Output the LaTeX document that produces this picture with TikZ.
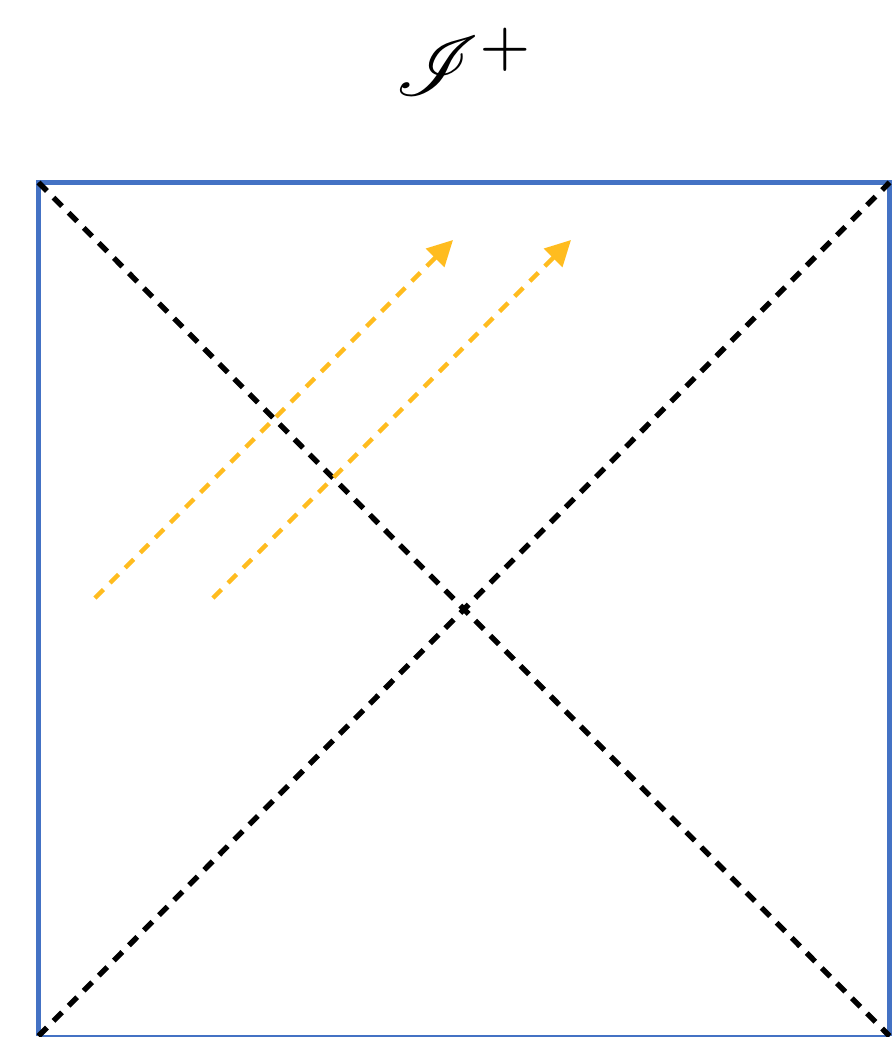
\documentclass[tikz,border=0pt]{standalone}
\usepackage{amsmath,amssymb}
\usepackage{mathrsfs}
\usetikzlibrary{arrows.meta}
\definecolor{edge}{HTML}{4472C4}
\definecolor{ray}{HTML}{FFBC1F}
\tikzset{
  wall/.style={draw=edge,line width=3.8pt},
  wallthin/.style={draw=edge,line width=1.3pt},
  horizon/.style={draw=black,line width=4pt,dash pattern=on 9pt off 7pt},
  lightray/.style={draw=ray,line width=3.2pt,dash pattern=on 9pt off 7pt,-{Triangle[length=19pt,width=19pt]}},
  scri/.style={inner sep=0pt},
}

\begin{document}
\begin{tikzpicture}[x=0.75pt,y=-0.75pt]
  \useasboundingbox (0,0) rectangle (892,1037);
  % corners of the diagram
  \coordinate (tl) at (38.5,182.5);
  \coordinate (tr) at (889.5,182.5);
  \coordinate (bl) at (38.5,1036);
  \coordinate (br) at (889.5,1036);
  % boundary
  \draw[wall] (bl) -- (tl) -- (tr) -- (br);
  \draw[wallthin] (bl) -- (br);
  % horizons
  \draw[horizon] (tl) -- (br);
  \draw[horizon] (bl) -- (tr);
  % null rays
  \coordinate (r1a) at (95,598);
  \coordinate (r1b) at (453,240);
  \coordinate (r2a) at (213,598);
  \coordinate (r2b) at (571,240);
  \draw[lightray] (r1a) -- (r1b);
  \draw[lightray] (r2a) -- (r2b);
  % future null infinity
  \node[scri] (scriplus) at (465,62) {\scalebox{6.3}{$\mathscr{I}^{+}$}};
\end{tikzpicture}
\end{document}
